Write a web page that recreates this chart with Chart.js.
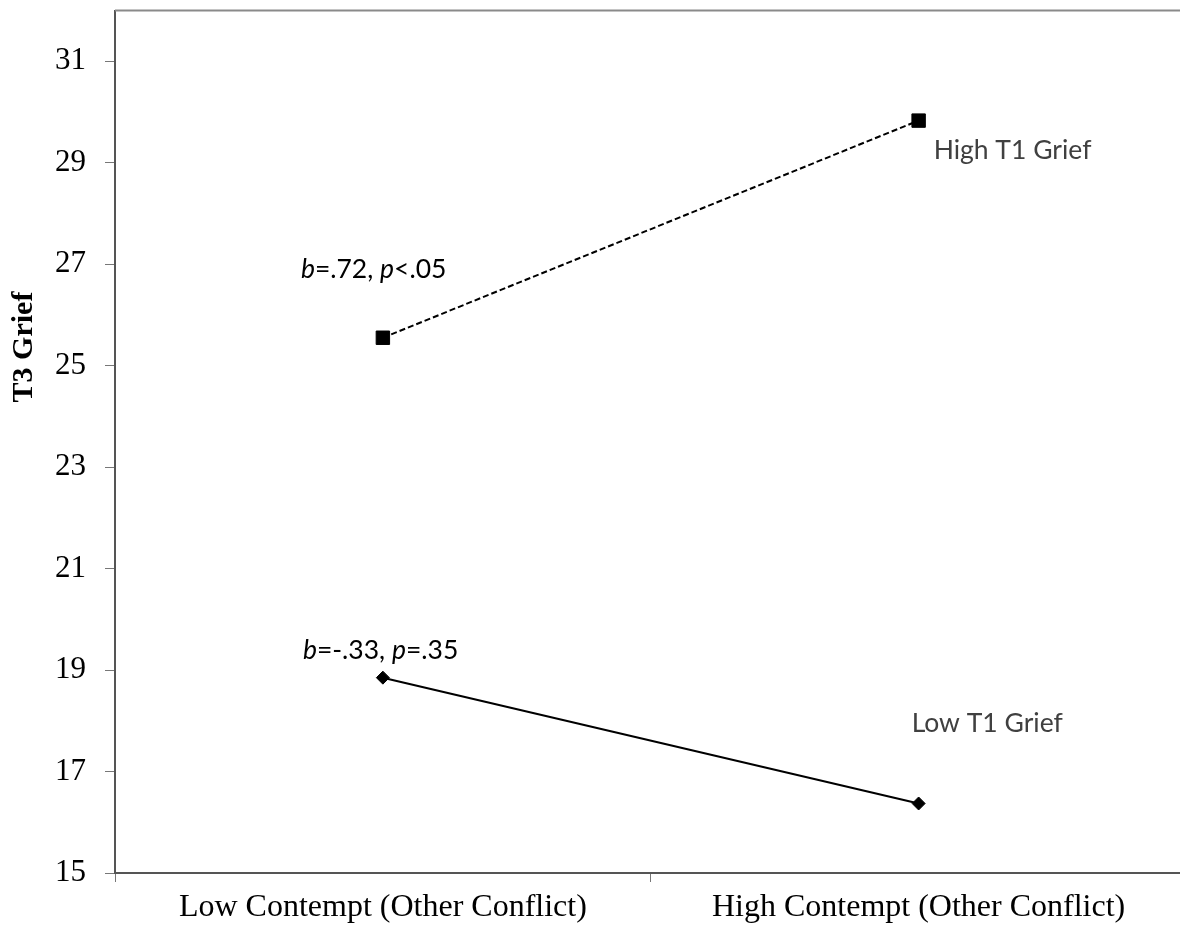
<!DOCTYPE html>
<html>
<head>
<meta charset="utf-8">
<script src="https://cdn.jsdelivr.net/npm/chart.js@4.4.1/dist/chart.umd.min.js"></script>
<style>
  html, body { margin: 0; padding: 0; background: #fff; overflow: hidden; }
  #wrap { width: 1180px; height: 932px; overflow: hidden; }
  canvas { display: block; }
</style>
</head>
<body>
<div id="wrap"><canvas id="griefChart" width="1197" height="932"></canvas></div>
<script>
// данные графика
const categories = ["Low Contempt (Other Conflict)", "High Contempt (Other Conflict)"];
const highGrief = [25.55, 29.83];
const lowGrief = [18.85, 16.37];
const yTicks = [15, 17, 19, 21, 23, 25, 27, 29, 31];

const serif = "'Liberation Serif', 'Times New Roman', serif";
const sans = "Lato, 'Open Sans', sans-serif";

// подписи: текст по кусочкам (курсив для b и p), привязка к точке серии
const notes = [
    { runs: [["b", true], ["=.72, ", false], ["p", true], ["<.05", false]], series: highGrief, idx: 0, dx: -82, dy: -68, color: "#000" },
    { runs: [["b", true], ["=-.33, ", false], ["p", true], ["=.35", false]], series: lowGrief, idx: 0, dx: -80, dy: -27, color: "#000" },
    { runs: [["High T1 Grief", false]], series: highGrief, idx: 1, dx: 15, dy: 30, color: "#404040" },
    { runs: [["Low T1 Grief", false]], series: lowGrief, idx: 1, dx: -7, dy: -80, color: "#404040" }
];

const extrasPlugin = {
    id: "extras",
    afterDraw(chart) {
        const ctx = chart.ctx;
        const area = chart.chartArea;
        const xs = chart.scales.x;
        const ys = chart.scales.y;

        // верхняя рамка
        ctx.save();
        ctx.strokeStyle = "#8a8a8a";
        ctx.lineWidth = 2;
        ctx.beginPath();
        ctx.moveTo(area.left, area.top);
        ctx.lineTo(area.right, area.top);
        ctx.stroke();

        // подпись оси Y
        ctx.translate(24, 347);
        ctx.rotate(-Math.PI / 2);
        ctx.font = "bold 30px " + serif;
        ctx.fillStyle = "#000";
        ctx.textAlign = "center";
        ctx.textBaseline = "middle";
        ctx.fillText("T3 Grief", 0, 0);
        ctx.restore();

        // аннотации
        notes.forEach(n => {
            let x = xs.getPixelForValue(n.idx) + n.dx;
            const y = ys.getPixelForValue(n.series[n.idx]) + n.dy;
            ctx.save();
            ctx.fillStyle = n.color;
            ctx.textBaseline = "middle";
            ctx.textAlign = "left";
            n.runs.forEach(([txt, italic]) => {
                ctx.font = (italic ? "italic " : "") + "26.5px " + sans;
                ctx.fillText(txt, x, y);
                x += ctx.measureText(txt).width;
            });
            ctx.restore();
        });
    }
};

const ctx = document.getElementById("griefChart").getContext("2d");
new Chart(ctx, {
    type: "line",
    data: {
        labels: categories,
        datasets: [
            {
                label: "High T1 Grief",
                data: highGrief,
                borderColor: "#000",
                backgroundColor: "#000",
                borderWidth: 2,
                borderDash: [6, 3],
                pointStyle: "rect",
                pointRadius: 9.5,
                pointBorderWidth: 1,
                tension: 0
            },
            {
                label: "Low T1 Grief",
                data: lowGrief,
                borderColor: "#000",
                backgroundColor: "#000",
                borderWidth: 2,
                pointStyle: "rectRot",
                pointRadius: 6.5,
                pointBorderWidth: 1,
                tension: 0
            }
        ]
    },
    options: {
        responsive: false,
        animation: false,
        devicePixelRatio: 1,
        layout: { padding: { top: 4, right: 0, bottom: 0, left: 0 } },
        plugins: {
            legend: { display: false },
            tooltip: { enabled: false }
        },
        scales: {
            x: {
                type: "category",
                offset: true,
                grid: {
                    offset: true,
                    drawOnChartArea: false,
                    drawTicks: true,
                    tickLength: 9,
                    color: "#777",
                    lineWidth: 1
                },
                border: { display: true, color: "#555", width: 2 },
                ticks: {
                    color: "#000",
                    font: { family: serif, size: 32 },
                    padding: 6,
                    maxRotation: 0,
                    autoSkip: false
                },
                afterFit(scale) {
                    scale.height = 59;
                    scale.paddingLeft = 0;
                    scale.paddingRight = 0;
                }
            },
            y: {
                min: 15,
                max: 32,
                grid: {
                    drawOnChartArea: false,
                    drawTicks: true,
                    tickLength: 10,
                    color: "#777",
                    lineWidth: 1
                },
                border: { display: true, color: "#555", width: 2 },
                ticks: {
                    color: "#000",
                    font: { family: serif, size: 31 },
                    padding: 19
                },
                afterBuildTicks(axis) {
                    axis.ticks = yTicks.map(v => ({ value: v }));
                },
                afterFit(scale) {
                    scale.width = 115;
                    scale.paddingTop = 0;
                    scale.paddingBottom = 0;
                }
            }
        }
    },
    plugins: [extrasPlugin]
});
</script>
</body>
</html>
